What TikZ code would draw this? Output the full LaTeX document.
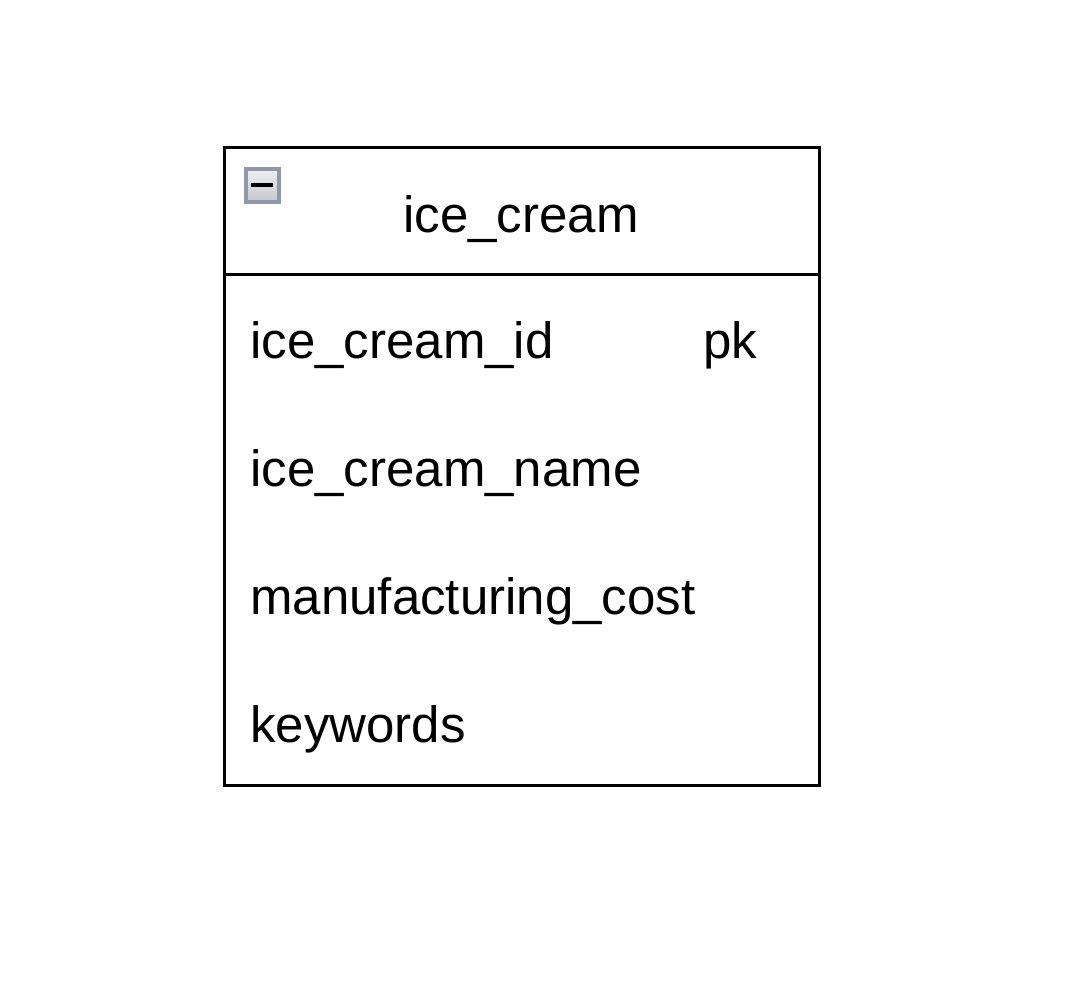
\documentclass[tikz,border=0pt]{standalone}
\usepackage{fontspec}
\setmainfont{Liberation Sans}
\usepackage{xcolor}
\definecolor{iconEdge}{RGB}{144, 152, 168}
\definecolor{iconTop}{RGB}{240, 240, 242}
\definecolor{iconBottom}{RGB}{196, 198, 204}
\tikzset{
  field/.style={anchor=base west, inner sep=0pt, font=\fontsize{25.5}{30}\selectfont},
  tablebox/.style={draw=black, line width=1.5pt},
}
\begin{document}
\begin{tikzpicture}[x=0.5pt, y=-0.5pt]
                \useasboundingbox (0,0) rectangle (1085,985);
                \draw[tablebox] (224,147) rectangle (819,785);
                \draw[tablebox] (224,274) -- (819,274);
                \shade[top color=iconTop, bottom color=iconBottom] (246,169) rectangle (279,202);
                \draw[iconEdge, line width=1.6pt] (246,169) rectangle (279,202);
                \fill[black] (251,183) rectangle (273,187);
                \node[field, anchor=base] (title) at (521,232) {ice\_cream};
                \node[field] (idfield) at (250,358) {ice\_cream\_id};
                \node[field] (pkmark) at (703,358) {pk};
                \node[field] (namefield) at (250,486) {ice\_cream\_name};
                \node[field] (costfield) at (250,614) {manufacturing\_cost};
                \node[field] (keyfield) at (250,742) {keywords};
            \end{tikzpicture}
\end{document}
